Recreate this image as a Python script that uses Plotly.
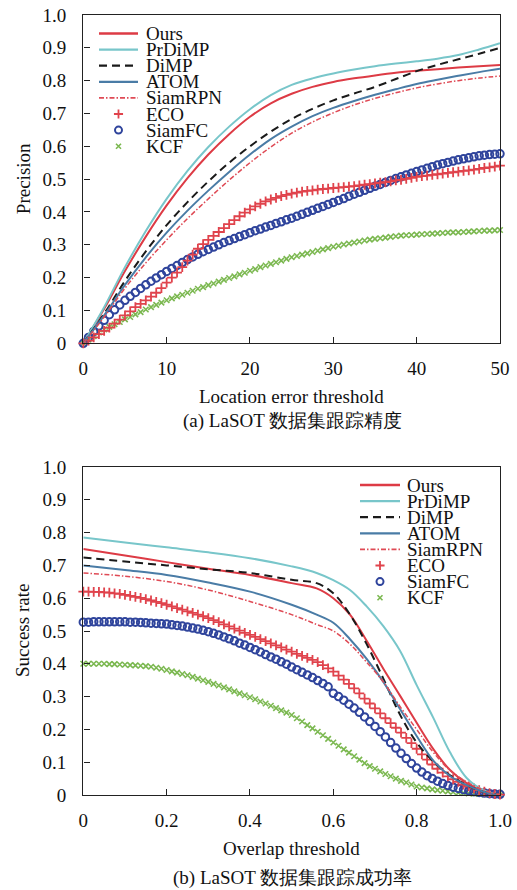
import numpy as np
import plotly.graph_objects as go

W, H = 517, 890

# ---------------- data: (a) precision vs location error threshold ----------------
LINE_X_A = [0, 2.5, 5, 7.5, 10, 12.5, 15, 17.5, 20, 22.5, 25, 27.5, 30, 32.5, 35, 37.5, 40, 42.5, 45, 47.5, 50]
PREC_OURS = [0, 0.105, 0.22, 0.325, 0.42, 0.503, 0.575, 0.637, 0.69, 0.731, 0.76, 0.781, 0.796, 0.807, 0.816, 0.824, 0.83, 0.835, 0.84, 0.844, 0.848]
PREC_PRDIMP = [0, 0.11, 0.232, 0.342, 0.44, 0.525, 0.598, 0.66, 0.713, 0.756, 0.787, 0.807, 0.822, 0.834, 0.844, 0.852, 0.859, 0.867, 0.878, 0.895, 0.914]
PREC_DIMP = [0, 0.09, 0.19, 0.28, 0.36, 0.43, 0.493, 0.55, 0.6, 0.645, 0.683, 0.714, 0.74, 0.761, 0.781, 0.805, 0.829, 0.848, 0.865, 0.882, 0.9]
PREC_ATOM = [0, 0.085, 0.178, 0.262, 0.337, 0.404, 0.465, 0.522, 0.575, 0.622, 0.66, 0.692, 0.717, 0.738, 0.757, 0.774, 0.79, 0.803, 0.815, 0.826, 0.836]
PREC_SIAMRPN = [0, 0.08, 0.168, 0.245, 0.315, 0.38, 0.44, 0.497, 0.55, 0.598, 0.64, 0.674, 0.702, 0.726, 0.746, 0.763, 0.778, 0.79, 0.8, 0.808, 0.814]

MARK_X_A = [i * 0.625 for i in range(81)]
PREC_ECO = [0, 0.008, 0.018, 0.028, 0.038, 0.048, 0.06, 0.072, 0.085, 0.097,
            0.11, 0.12, 0.131, 0.142, 0.154, 0.168, 0.185, 0.2, 0.215, 0.232,
            0.252, 0.27, 0.288, 0.302, 0.315, 0.327, 0.339, 0.351, 0.363, 0.375,
            0.387, 0.398, 0.408, 0.417, 0.425, 0.432, 0.438, 0.443, 0.448, 0.452,
            0.456, 0.459, 0.462, 0.464, 0.466, 0.468, 0.47, 0.471, 0.473, 0.474,
            0.476, 0.477, 0.479, 0.481, 0.483, 0.485, 0.487, 0.489, 0.491, 0.493,
            0.496, 0.498, 0.501, 0.504, 0.507, 0.509, 0.511, 0.513, 0.515, 0.517,
            0.519, 0.521, 0.523, 0.525, 0.527, 0.529, 0.531, 0.534, 0.536, 0.538, 0.541]
PREC_SIAMFC = [0, 0.018, 0.036, 0.053, 0.07, 0.087, 0.102, 0.117, 0.131, 0.143,
               0.155, 0.167, 0.178, 0.189, 0.199, 0.209, 0.219, 0.228, 0.237, 0.246,
               0.255, 0.263, 0.271, 0.279, 0.286, 0.293, 0.3, 0.307, 0.313, 0.319,
               0.325, 0.331, 0.337, 0.343, 0.348, 0.354, 0.359, 0.365, 0.37, 0.376,
               0.381, 0.387, 0.393, 0.399, 0.405, 0.411, 0.417, 0.423, 0.429, 0.435,
               0.441, 0.448, 0.454, 0.46, 0.466, 0.472, 0.478, 0.484, 0.49, 0.496,
               0.502, 0.507, 0.513, 0.518, 0.523, 0.528, 0.533, 0.538, 0.543, 0.547,
               0.551, 0.555, 0.559, 0.562, 0.565, 0.568, 0.571, 0.573, 0.575, 0.576, 0.577]
PREC_KCF = [0, 0.011, 0.022, 0.033, 0.042, 0.05, 0.058, 0.065, 0.073, 0.08,
            0.088, 0.095, 0.103, 0.11, 0.117, 0.124, 0.131, 0.137, 0.143, 0.148,
            0.154, 0.16, 0.166, 0.171, 0.177, 0.182, 0.188, 0.193, 0.199, 0.204,
            0.21, 0.215, 0.221, 0.226, 0.232, 0.237, 0.242, 0.247, 0.252, 0.257,
            0.262, 0.266, 0.27, 0.274, 0.278, 0.282, 0.286, 0.29, 0.294, 0.297,
            0.301, 0.304, 0.307, 0.31, 0.313, 0.316, 0.318, 0.32, 0.322, 0.324,
            0.326, 0.328, 0.329, 0.33, 0.331, 0.332, 0.333, 0.334, 0.335, 0.336,
            0.337, 0.338, 0.338, 0.339, 0.34, 0.341, 0.342, 0.343, 0.343, 0.344, 0.345]

# ---------------- data: (b) success rate vs overlap threshold ----------------
LINE_X_B = [0, 0.1, 0.2, 0.3, 0.4, 0.5, 0.56, 0.6, 0.64, 0.68, 0.72, 0.76, 0.8, 0.84, 0.88, 0.92, 0.96, 1.0]
SUCC_OURS = [0.75, 0.73, 0.71, 0.69, 0.671, 0.646, 0.63, 0.6, 0.55, 0.47, 0.385, 0.303, 0.22, 0.14, 0.076, 0.036, 0.012, 0.0]
SUCC_PRDIMP = [0.785, 0.77, 0.755, 0.74, 0.722, 0.697, 0.677, 0.655, 0.625, 0.575, 0.515, 0.44, 0.335, 0.235, 0.13, 0.052, 0.015, 0.0]
SUCC_DIMP = [0.724, 0.712, 0.70, 0.688, 0.677, 0.656, 0.646, 0.615, 0.55, 0.46, 0.355, 0.245, 0.16, 0.102, 0.06, 0.03, 0.01, 0.0]
SUCC_ATOM = [0.70, 0.686, 0.671, 0.648, 0.62, 0.58, 0.55, 0.525, 0.475, 0.415, 0.345, 0.262, 0.18, 0.105, 0.058, 0.03, 0.01, 0.0]
SUCC_SIAMRPN = [0.677, 0.667, 0.651, 0.625, 0.59, 0.55, 0.52, 0.5, 0.46, 0.405, 0.345, 0.27, 0.2, 0.13, 0.075, 0.04, 0.015, 0.0]

MARK_X_B = [i * 0.0125 for i in range(81)]
SUCC_ECO = [0.62, 0.62, 0.619, 0.619, 0.618, 0.617, 0.615, 0.613, 0.61, 0.607,
            0.604, 0.601, 0.597, 0.593, 0.589, 0.585, 0.58, 0.575, 0.57, 0.565,
            0.56, 0.555, 0.55, 0.545, 0.539, 0.533, 0.527, 0.52, 0.514, 0.507,
            0.501, 0.494, 0.488, 0.482, 0.475, 0.469, 0.462, 0.456, 0.45, 0.443,
            0.437, 0.43, 0.424, 0.418, 0.412, 0.405, 0.396, 0.386, 0.376, 0.364,
            0.352, 0.339, 0.325, 0.31, 0.294, 0.279, 0.264, 0.249, 0.234, 0.219,
            0.205, 0.19, 0.174, 0.158, 0.141, 0.124, 0.108, 0.093, 0.08, 0.068,
            0.057, 0.048, 0.04, 0.032, 0.026, 0.02, 0.015, 0.01, 0.006, 0.003, 0.001]
SUCC_SIAMFC = [0.527, 0.527, 0.528, 0.528, 0.528, 0.528, 0.528, 0.528, 0.528, 0.527,
               0.527, 0.526, 0.525, 0.524, 0.523, 0.522, 0.521, 0.519, 0.517, 0.515,
               0.512, 0.509, 0.506, 0.502, 0.498, 0.493, 0.488, 0.482, 0.476, 0.47,
               0.463, 0.457, 0.45, 0.443, 0.436, 0.428, 0.421, 0.414, 0.406, 0.399,
               0.39, 0.382, 0.374, 0.366, 0.358, 0.349, 0.34, 0.33, 0.31, 0.3,
               0.289, 0.277, 0.265, 0.252, 0.238, 0.224, 0.209, 0.193, 0.177, 0.16,
               0.143, 0.127, 0.111, 0.096, 0.082, 0.07, 0.059, 0.05, 0.042, 0.035,
               0.029, 0.024, 0.02, 0.016, 0.013, 0.01, 0.008, 0.006, 0.004, 0.003, 0.002]
SUCC_KCF = [0.4, 0.4, 0.4, 0.4, 0.4, 0.399, 0.399, 0.398, 0.397, 0.396,
            0.395, 0.394, 0.393, 0.391, 0.388, 0.385, 0.381, 0.377, 0.373, 0.369,
            0.365, 0.36, 0.355, 0.35, 0.345, 0.339, 0.334, 0.328, 0.322, 0.316,
            0.31, 0.304, 0.298, 0.292, 0.285, 0.279, 0.272, 0.265, 0.258, 0.251,
            0.244, 0.234, 0.224, 0.213, 0.203, 0.193, 0.182, 0.171, 0.16, 0.15,
            0.139, 0.129, 0.118, 0.108, 0.097, 0.088, 0.08, 0.072, 0.064, 0.057,
            0.05, 0.043, 0.038, 0.032, 0.026, 0.023, 0.02, 0.017, 0.015, 0.013,
            0.011, 0.009, 0.007, 0.006, 0.005, 0.004, 0.003, 0.002, 0.002, 0.001, 0.0]

NAMES = ["Ours", "PrDiMP", "DiMP", "ATOM", "SiamRPN", "ECO", "SiamFC", "KCF"]
Y_TICKS = [0, 0.1, 0.2, 0.3, 0.4, 0.5, 0.6, 0.7, 0.8, 0.9, 1.0]
Y_TICK_TEXT = ["0", "0.1", "0.2", "0.3", "0.4", "0.5", "0.6", "0.7", "0.8", "0.9", "1.0"]
XA_TICKS = [0, 10, 20, 30, 40, 50]
XA_TICK_TEXT = ["0", "10", "20", "30", "40", "50"]
XB_TICKS = [0, 0.2, 0.4, 0.6, 0.8, 1.0]
XB_TICK_TEXT = ["0", "0.2", "0.4", "0.6", "0.8", "1.0"]

# ---------------- styles ----------------
SERIF = "Liberation Serif"
STYLE = {
    "Ours": dict(kind="line", color="#dd3b45", width=2.0, dash="solid"),
    "PrDiMP": dict(kind="line", color="#78c6ca", width=2.0, dash="solid"),
    "DiMP": dict(kind="line", color="#1a1a1a", width=2.0, dash="8px,5px"),
    "ATOM": dict(kind="line", color="#4a7ca6", width=2.0, dash="solid"),
    "SiamRPN": dict(kind="line", color="#df4a55", width=1.5, dash="5px,2px,1.5px,2px"),
    "ECO": dict(kind="mark", color="#e0434c", symbol="cross-thin-open", size=7, lw=1.8),
    "SiamFC": dict(kind="mark", color="#2f449c", symbol="circle-open", size=7.5, lw=2.0),
    "KCF": dict(kind="mark", color="#7bb850", symbol="x-thin-open", size=5.5, lw=1.6),
}

# plot areas in pixels
PX_L, PX_R = 83.3, 500.0
TOP_A, BOT_A = 15.0, 343.3
TOP_B, BOT_B = 467.0, 795.0

fig = go.Figure()

def add_panel(xa, ya, line_x, line_vals, mark_x, mark_vals):
    for name, vals in mark_vals:
        s = STYLE[name]
        fig.add_trace(go.Scatter(
            x=mark_x, y=vals, mode="markers", xaxis=xa, yaxis=ya, showlegend=False,
            cliponaxis=False,
            marker=dict(symbol=s["symbol"], size=s["size"], color=s["color"],
                        line=dict(width=s["lw"], color=s["color"]))))
    for name, vals in line_vals:
        s = STYLE[name]
        fig.add_trace(go.Scatter(
            x=line_x, y=vals, mode="lines", xaxis=xa, yaxis=ya, showlegend=False,
            line=dict(color=s["color"], width=s["width"], dash=s["dash"], shape="spline", smoothing=1.0)))

add_panel("x", "y", LINE_X_A,
          [("Ours", PREC_OURS), ("PrDiMP", PREC_PRDIMP), ("DiMP", PREC_DIMP),
           ("ATOM", PREC_ATOM), ("SiamRPN", PREC_SIAMRPN)],
          MARK_X_A, [("KCF", PREC_KCF), ("SiamFC", PREC_SIAMFC), ("ECO", PREC_ECO)])
add_panel("x2", "y2", LINE_X_B,
          [("Ours", SUCC_OURS), ("PrDiMP", SUCC_PRDIMP), ("DiMP", SUCC_DIMP),
           ("ATOM", SUCC_ATOM), ("SiamRPN", SUCC_SIAMRPN)],
          MARK_X_B, [("KCF", SUCC_KCF), ("SiamFC", SUCC_SIAMFC), ("ECO", SUCC_ECO)])

# ---------------- manual legends (pixel overlay axis) ----------------
annotations = []

def add_legend(x_line0, x_line1, x_text, y_first, step):
    for i, name in enumerate(NAMES):
        s = STYLE[name]
        yy = y_first + i * step
        if s["kind"] == "line":
            fig.add_trace(go.Scatter(
                x=[x_line0, x_line1], y=[yy, yy], mode="lines", xaxis="x3", yaxis="y3",
                showlegend=False, hoverinfo="skip",
                line=dict(color=s["color"], width=s["width"] + 0.3, dash=s["dash"])))
        else:
            fig.add_trace(go.Scatter(
                x=[(x_line0 + x_line1) / 2], y=[yy], mode="markers", xaxis="x3", yaxis="y3",
                showlegend=False, hoverinfo="skip",
                marker=dict(symbol=s["symbol"], size=s["size"] - 0.5, color=s["color"],
                            line=dict(width=s["lw"], color=s["color"]))))
        annotations.append(dict(
            x=x_text, y=yy, xref="x3", yref="y3", text=name, showarrow=False,
            xanchor="left", yanchor="middle", font=dict(family=SERIF, size=19, color="#111")))

add_legend(99, 138, 144, 33.5, 16.1)
add_legend(360, 400, 405, 485.0, 16.1)

# ---------------- titles ----------------
def text_at(x, y, txt, size=19, angle=0):
    annotations.append(dict(
        x=x, y=y, xref="x3", yref="y3", text=txt, showarrow=False, textangle=angle,
        xanchor="center", yanchor="middle", font=dict(family=SERIF, size=size, color="#111")))

text_at(23, (TOP_A + BOT_A) / 2, "Precision", angle=-90)
text_at(291.7, 396, "Location error threshold")
text_at(292, 421, "(a) LaSOT 数据集跟踪精度")
text_at(22, (TOP_B + BOT_B) / 2, "Success rate", angle=-90)
text_at(291.7, 848, "Overlap threshold")
text_at(292, 878, "(b) LaSOT 数据集跟踪成功率")

# ---------------- axes ----------------
def axis_common():
    return dict(showline=True, linecolor="#222", linewidth=1.4, mirror=True,
                ticks="inside", ticklen=6, tickwidth=1.3, tickcolor="#222",
                showgrid=False, zeroline=False, automargin=False,
                tickfont=dict(family=SERIF, size=19, color="#111"))

xdom = [PX_L / W, PX_R / W]
fig.update_layout(
    template="none",
    width=W, height=H, margin=dict(l=0, r=0, t=0, b=0, pad=0, autoexpand=False),
    paper_bgcolor="white", plot_bgcolor="rgba(0,0,0,0)", showlegend=False,
    font=dict(family=SERIF, size=19, color="#111"),
    xaxis=dict(domain=xdom, range=[0, 50], anchor="y", tickvals=XA_TICKS, ticktext=XA_TICK_TEXT,
               ticklabelstandoff=8, **axis_common()),
    yaxis=dict(domain=[1 - BOT_A / H, 1 - TOP_A / H], range=[0, 1], anchor="x",
               tickvals=Y_TICKS, ticktext=Y_TICK_TEXT, ticklabelstandoff=12, **axis_common()),
    xaxis2=dict(domain=xdom, range=[0, 1], anchor="y2", tickvals=XB_TICKS, ticktext=XB_TICK_TEXT,
                ticklabelstandoff=8, **axis_common()),
    yaxis2=dict(domain=[1 - BOT_B / H, 1 - TOP_B / H], range=[0, 1], anchor="x2",
                tickvals=Y_TICKS, ticktext=Y_TICK_TEXT, ticklabelstandoff=12, **axis_common()),
    xaxis3=dict(domain=[0, 1], range=[0, W], anchor="y3", visible=False, fixedrange=True),
    yaxis3=dict(domain=[0, 1], range=[H, 0], anchor="x3", visible=False, fixedrange=True),
    annotations=annotations,
)

# the page body has a default 8px margin; remove it so the figure sits at the window origin
fig.write_html("out.html", config={"displayModeBar": False},
               post_script="document.body.style.margin='0';document.body.style.overflow='hidden';")
